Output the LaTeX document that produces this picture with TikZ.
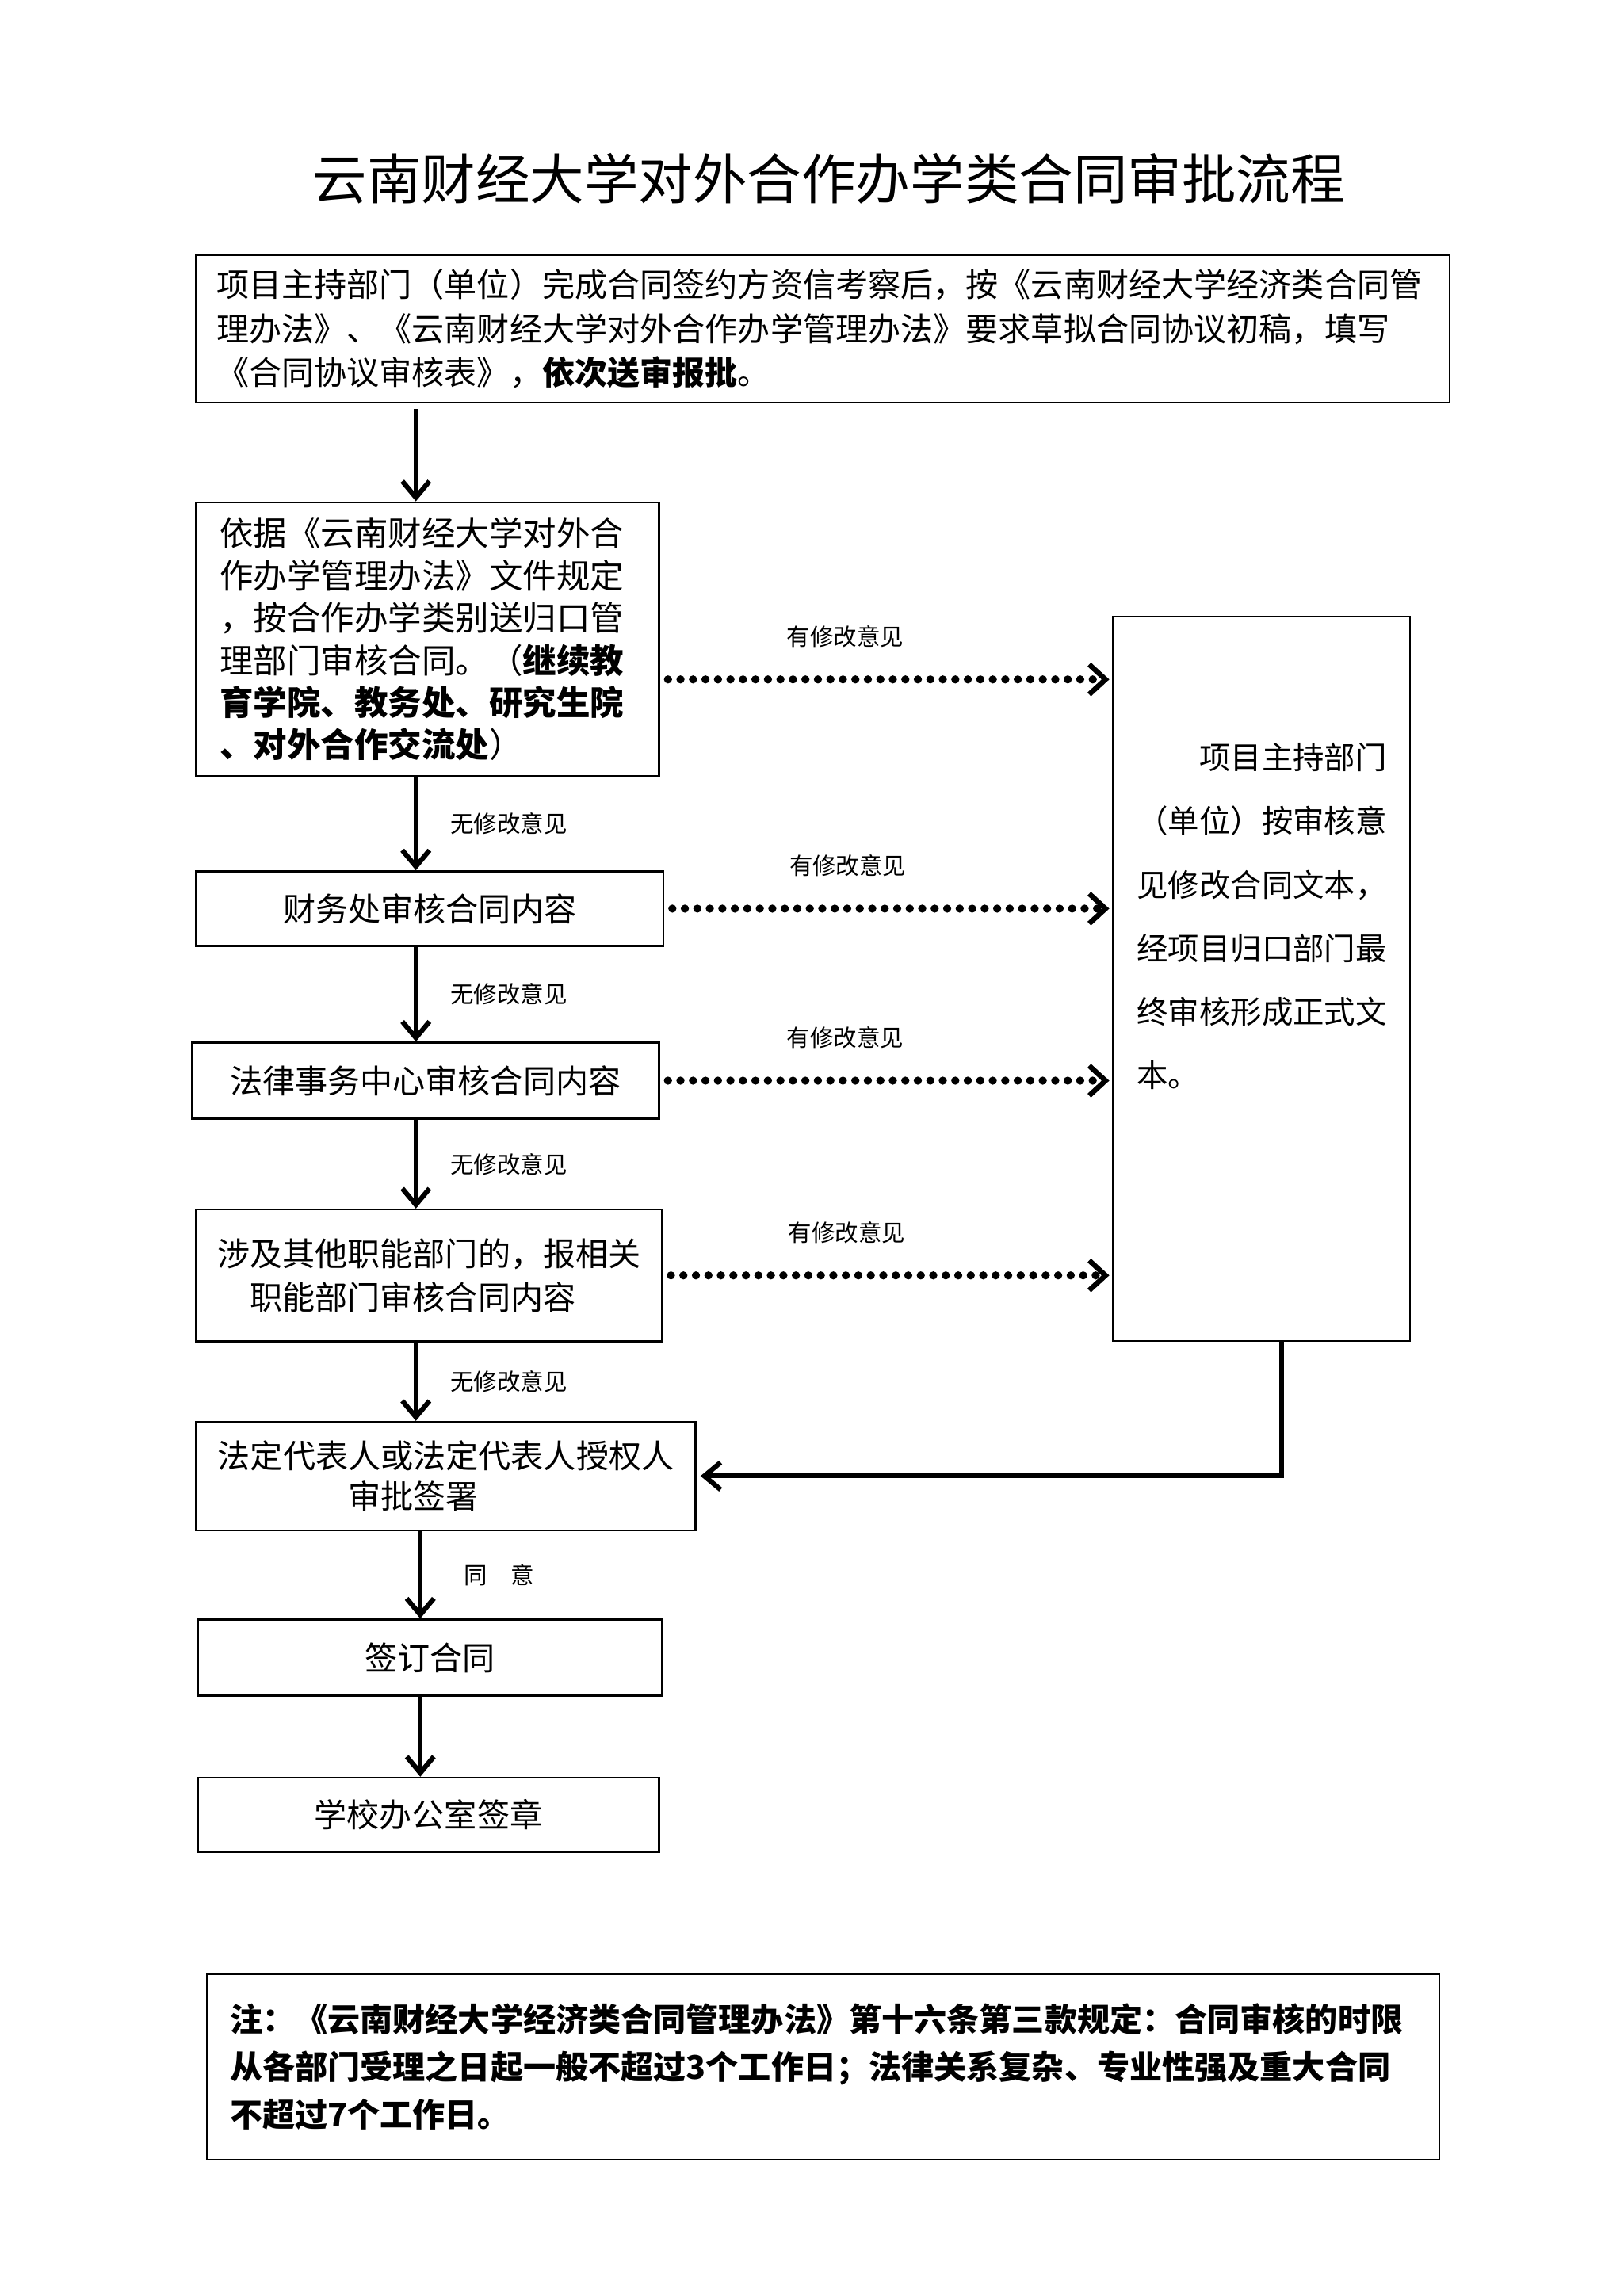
\documentclass[tikz,border=0pt]{standalone}
\usepackage{fontspec}
\setmainfont{Noto Sans CJK SC}
\usetikzlibrary{arrows.meta}

\begin{document}
\begin{tikzpicture}[x=0.018945cm, y=-0.018945cm,
    box/.style={draw, line width=0.7pt, inner sep=0pt, font=\fontsize{12}{15.6}\selectfont},
    arr/.style={line width=1.8pt, -{Straight Barb[length=6pt, width=10pt]}},
    dotarr/.style={line width=3pt, line cap=round, dash pattern=on 0pt off 4.6pt,
        -{Straight Barb[length=6pt, width=11pt, line width=1.9pt]}},
    lab/.style={inner sep=1pt, font=\fontsize{8.6}{10}\selectfont}]
    \useasboundingbox (0,0) rectangle (1108.5,1568);

    \node[font=\fontsize{20}{24}\selectfont] (title) at (566,122) {云南财经大学对外合作办学类合同审批流程};

    % left column
    \node[box, minimum width=16.22cm, minimum height=1.913cm, text width=15.7cm, align=left,
        font=\fontsize{12}{16.2}\selectfont] (b1) at (562,224.5)
        {项目主持部门（单位）完成合同签约方资信考察后，按《云南财经大学经济类合同管\\
         理办法》、《云南财经大学对外合作办学管理办法》要求草拟合同协议初稿，填写\\
         《合同协议审核表》，\textbf{依次送审报批}。};
    \node[box, minimum width=5.987cm, minimum height=3.543cm, text width=5.38cm, align=left,
        font=\fontsize{12.4}{15.6}\selectfont] (b2) at (292,436.5)
        {依据《云南财经大学对外合\\作办学管理办法》文件规定\\，按合作办学类别送归口管\\
         理部门审核合同。（\textbf{继续教}\\\textbf{育学院、教务处、研究生院}\\\textbf{、对外合作交流处}）};
    \node[box, minimum width=6.043cm, minimum height=0.966cm] (b3) at (293.5,620.5) {财务处审核合同内容};
    \node[box, minimum width=6.043cm, minimum height=0.985cm] (b4) at (290.5,738) {法律事务中心审核合同内容};
    \node[box, minimum width=6.025cm, minimum height=1.705cm, align=center,
        font=\fontsize{12}{16.1}\selectfont] (b5) at (293,871)
        {涉及其他职能部门的，报相关\\职能部门审核合同内容\hspace*{1em}};
    \node[box, minimum width=6.46cm, minimum height=1.402cm, align=center,
        font=\fontsize{12}{15}\selectfont] (b6) at (304.5,1008)
        {法定代表人或法定代表人授权人\\审批签署\hspace*{2em}};
    \node[box, minimum width=6.006cm, minimum height=0.985cm] (b7) at (293.5,1132) {签订合同};
    \node[box, minimum width=5.968cm, minimum height=0.966cm] (b8) at (292.5,1239.5) {学校办公室签章};

    % right box
    \node[box, minimum width=3.846cm, minimum height=9.378cm] (R) at (861.5,668.5) {};
    \node[anchor=north west, inner sep=0pt, text width=3.4cm, align=left,
        font=\fontsize{11.5}{23.4}\selectfont] (Rtxt) at (776,507)
        {　　项目主持部门\\（单位）按审核意\\见修改合同文本，\\经项目归口部门最\\终审核形成正式文\\本。};

    % note
    \node[box, minimum width=15.95cm, minimum height=2.406cm, text width=15.35cm, align=left,
        font=\bfseries\fontsize{12}{17.5}\selectfont] (note) at (562,1411.5)
        {注：《云南财经大学经济类合同管理办法》第十六条第三款规定：合同审核的时限\\
         从各部门受理之日起一般不超过3个工作日；法律关系复杂、专业性强及重大合同\\
         不超过7个工作日。};

    % arrows
    \coordinate (c1) at (284,0);
    \coordinate (c2) at (287,0);
    \coordinate (y1) at (0,464);
    \draw[arr, shorten <=2pt] (b1.south -| c1) -- (b2.north -| c1);
    \foreach \a/\b in {b2/b3, b3/b4, b4/b5, b5/b6}
        \draw[arr] (\a.south -| c1) -- node[lab, right=0.38cm] {无修改意见} (\b.north -| c1);
    \draw[arr] (b6.south -| c2) -- node[lab, right=0.5cm] {同　意} (b7.north -| c2);
    \draw[arr] (b7.south -| c2) -- (b8.north -| c2);

    \draw[dotarr, shorten <=3pt, shorten >=1pt] (b2.east |- y1)
        -- node[lab, above=0.33cm, pos=0.41] {有修改意见} (R.west |- y1);
    \foreach \b in {b3, b4, b5}
        \draw[dotarr, shorten <=3pt, shorten >=1pt] (\b.east)
            -- node[lab, above=0.33cm, pos=0.41] {有修改意见} (\b.east -| R.west);

    \draw[arr, shorten >=1.5pt] ([xshift=0.256cm]R.south) |- (b6.east);
\end{tikzpicture}
\end{document}
